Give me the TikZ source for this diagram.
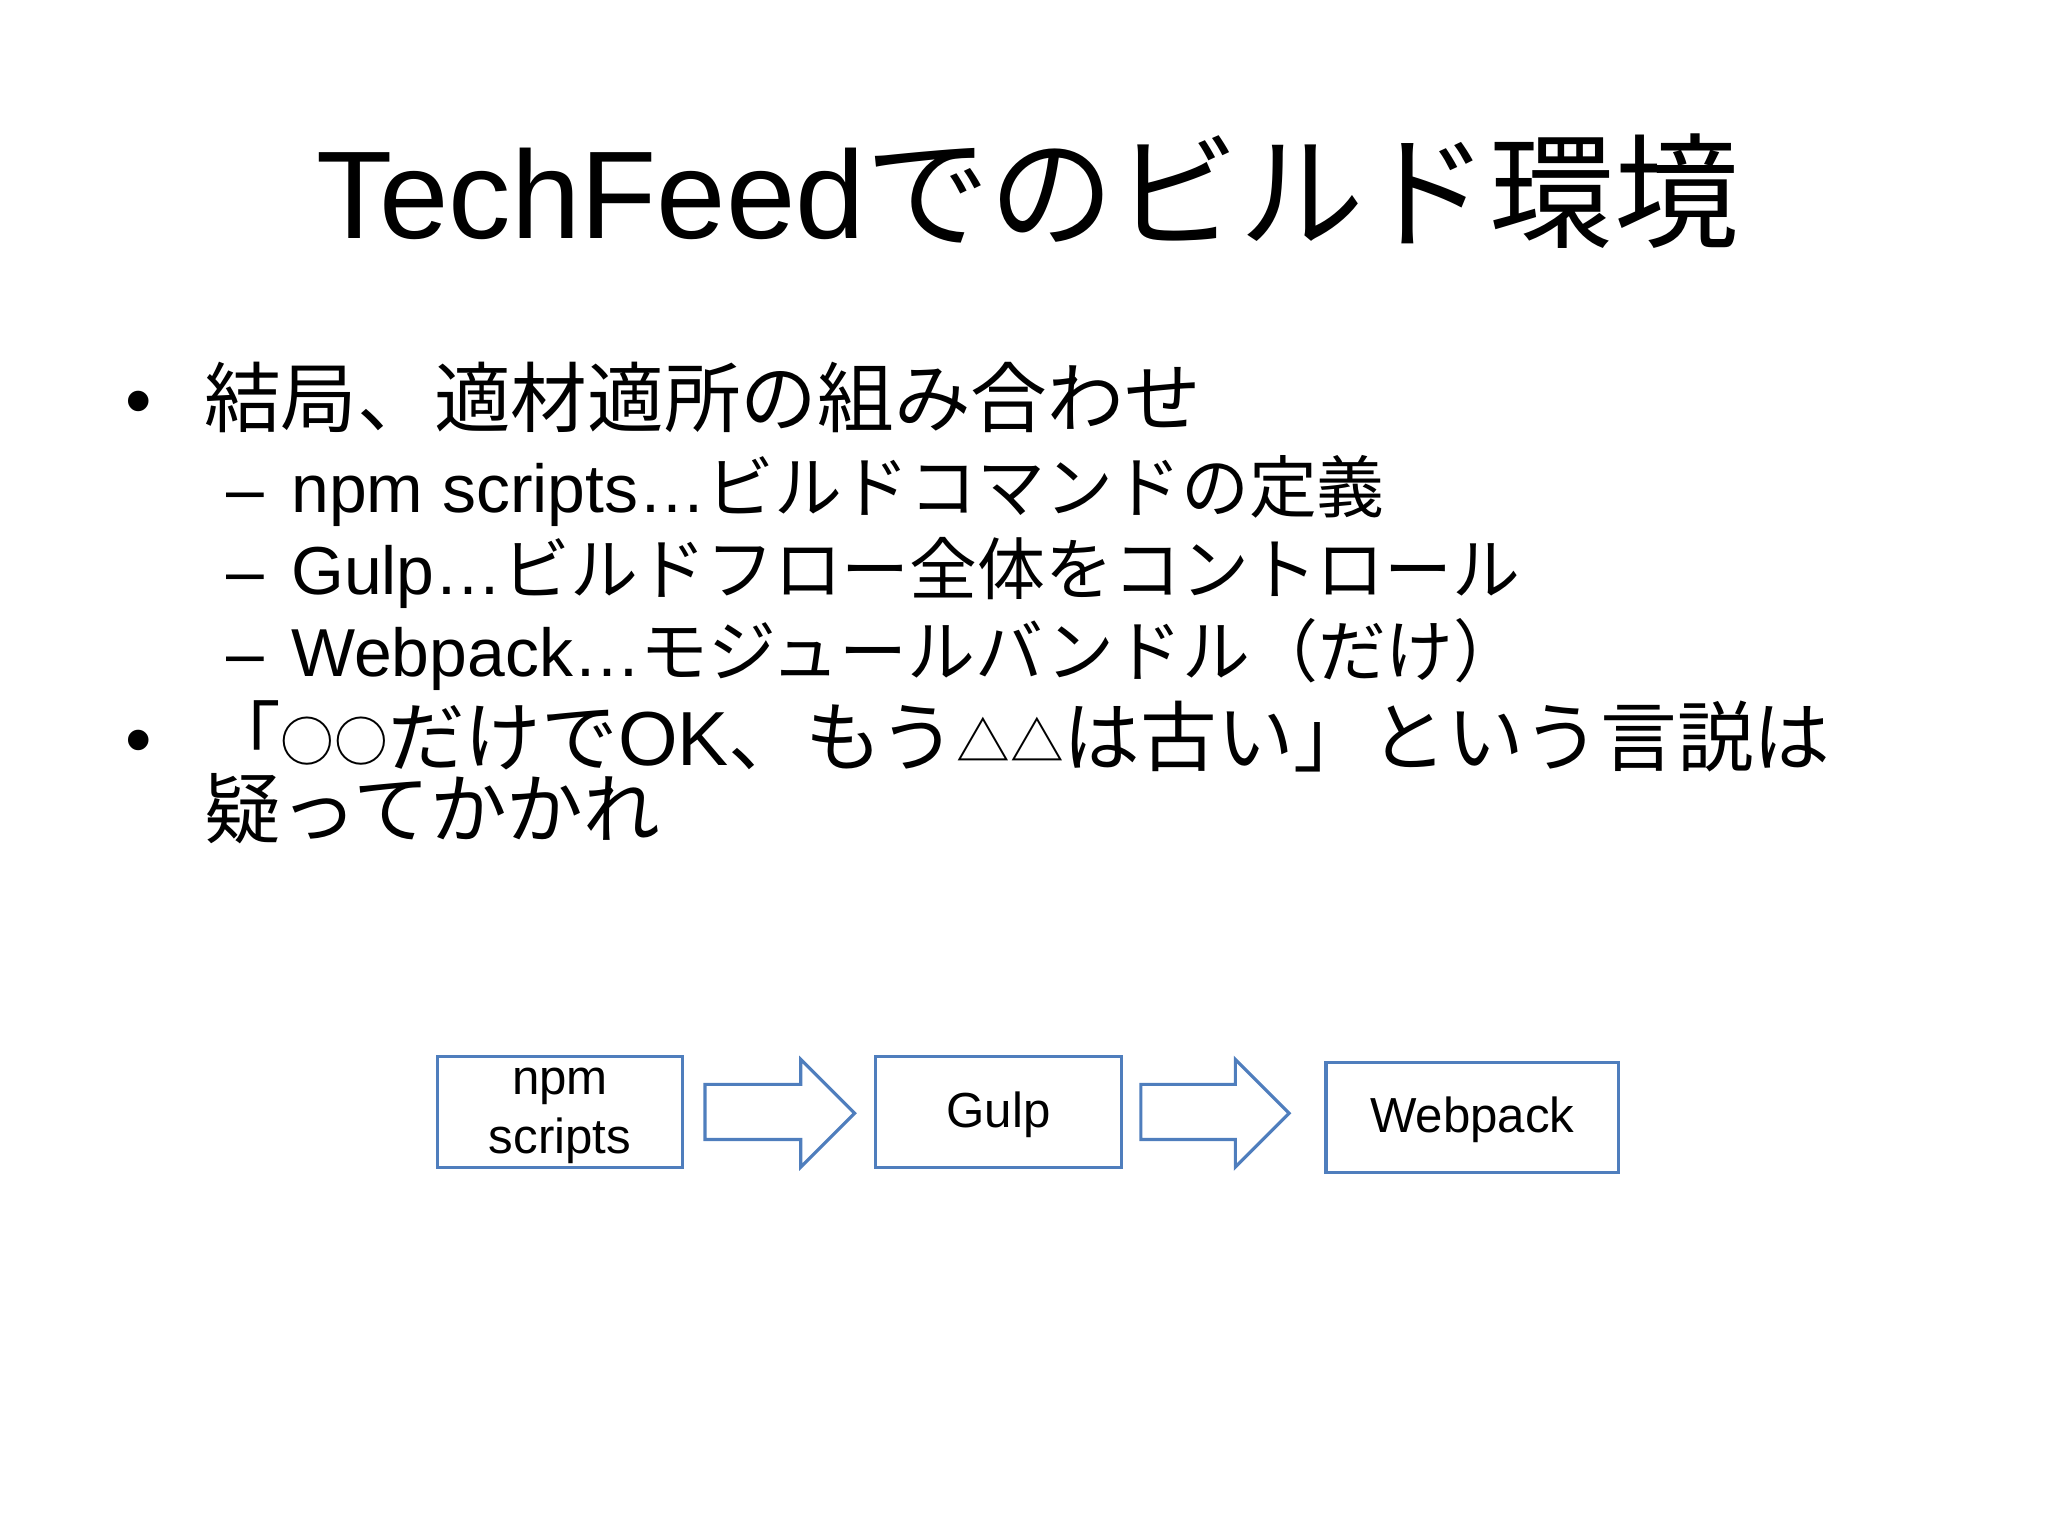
\documentclass[tikz,border=0pt]{standalone}
\usepackage{fontspec}
\setmainfont{Liberation Sans}
\newfontfamily\jp{Noto Sans CJK JP}
\newcommand{\J}[1]{{\jp #1}}
\newcommand{\sm}[1]{{\jp\raisebox{0.05em}{\scalebox{0.7}{#1}}}}
\begin{document}
\begin{tikzpicture}[x=0.01313cm,y=-0.01313cm,
  txt/.style={anchor=base west,inner sep=0pt},
  arr/.style={draw=boxblue,line width=0.9pt}]
\definecolor{boxblue}{HTML}{4F7EBD}
\useasboundingbox (0,0) rectangle (1560,1170);
\node[anchor=base,inner sep=0pt,font=\fontsize{35.5}{40}\selectfont] (title) at (783,182) {TechFeed\J{でのビルド環境}};
\node[txt,font=\fontsize{21.5}{24}\selectfont] (b1m) at (95,325) {•};
\node[txt,font=\fontsize{21.8}{24}\selectfont] (b1) at (155,325) {\J{結局、適材適所の組み合わせ}};
\node[txt,font=\fontsize{19.3}{21}\selectfont] (s1) at (172,390) {–\hspace{0.4em}npm scripts…\J{ビルドコマンドの定義}};
\node[txt,font=\fontsize{19.3}{21}\selectfont] (s2) at (172,453) {–\hspace{0.4em}Gulp…\J{ビルドフロー全体をコントロール}};
\node[txt,font=\fontsize{19.3}{21}\selectfont] (s3) at (172,515) {–\hspace{0.4em}Webpack…\J{モジュールバンドル（だけ）}};
\node[txt,font=\fontsize{21.5}{24}\selectfont] (b2m) at (95,583) {•};
\node[txt,font=\fontsize{21.8}{24}\selectfont] (b2) at (155,583) {\J{「}\sm{○○}\J{だけで}OK\J{、もう}\sm{△△}\J{は古い」という言説は}};
\node[txt,font=\fontsize{21.8}{24}\selectfont] (b2b) at (155,638) {\J{疑ってかかれ}};
\draw[draw=boxblue,line width=0.9pt] (333,805) rectangle (520,889);
\node[inner sep=0pt,font=\fontsize{14}{17}\selectfont,align=center] (npm) at (426.5,850) {npm\\scripts};
\draw[draw=boxblue,line width=0.9pt] (667,805) rectangle (854,889);
\node[inner sep=0pt,font=\fontsize{14}{17}\selectfont] (gulp) at (760.5,849) {Gulp};
\draw[draw=boxblue,line width=0.9pt] (1010,809) rectangle (1233,893);
\node[inner sep=0pt,font=\fontsize{14}{17}\selectfont] (wp) at (1121.5,853) {Webpack};
\draw[arr] (537,826) -- (610,826) -- (610,807) -- (651,848) -- (610,889) -- (610,868) -- (537,868) -- cycle;
\draw[arr] (869,826) -- (941,826) -- (941,807) -- (982,848) -- (941,889) -- (941,868) -- (869,868) -- cycle;
\end{tikzpicture}
\end{document}
